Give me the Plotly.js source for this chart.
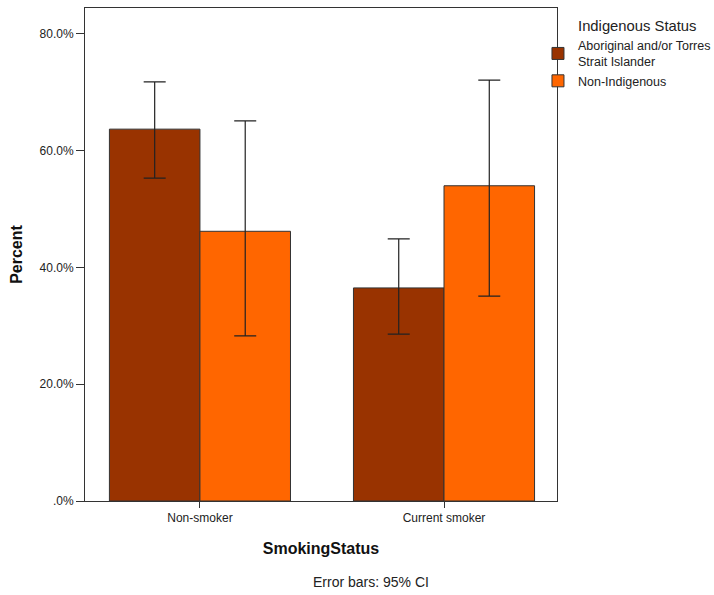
<!DOCTYPE html>
<html>
<head>
<meta charset="utf-8">
<script src="https://cdn.plot.ly/plotly-3.0.1.min.js"></script>
<style>html,body{margin:0;padding:0;background:#fff;}#chart{width:714px;height:595px;}</style>
</head>
<body>
<div id="chart"></div>
<script>
var categories = ["Non-smoker", "Current smoker"];
var seriesNames = ["Aboriginal and/or Torres<br>Strait Islander", "Non-Indigenous"];
var aboriginal = [63.7, 36.5];
var aboriginalLow = [55.3, 28.6];
var aboriginalHigh = [71.8, 44.9];
var nonIndigenous = [46.2, 54.0];
var nonIndigenousLow = [28.3, 35.1];
var nonIndigenousHigh = [65.1, 72.1];
var yTickVals = [0, 20, 40, 60, 80];
var yTickText = [".0%", "20.0%", "40.0%", "60.0%", "80.0%"];

function diff(a, b) { return a.map(function (v, i) { return v - b[i]; }); }

var fontFam = "Liberation Sans, Arial, sans-serif";

var traces = [
  {
    type: "bar", x: categories, y: aboriginal, name: seriesNames[0],
    marker: {color: "#993300", line: {color: "#333333", width: 1}},
    error_y: {type: "data", symmetric: false, array: diff(aboriginalHigh, aboriginal),
      arrayminus: diff(aboriginal, aboriginalLow), color: "#222222", thickness: 1.2, width: 11}
  },
  {
    type: "bar", x: categories, y: nonIndigenous, name: seriesNames[1],
    marker: {color: "#FF6600", line: {color: "#333333", width: 1}},
    error_y: {type: "data", symmetric: false, array: diff(nonIndigenousHigh, nonIndigenous),
      arrayminus: diff(nonIndigenous, nonIndigenousLow), color: "#222222", thickness: 1.2, width: 11}
  }
];

var layout = {
  width: 714, height: 595,
  margin: {l: 85, r: 157, t: 8, b: 94, autoexpand: false},
  paper_bgcolor: "#ffffff", plot_bgcolor: "#ffffff",
  font: {family: fontFam, size: 12, color: "#222222"},
  barmode: "group", bargap: 0.258, bargroupgap: 0,
  showlegend: true,
  legend: {
    x: 0.9597, y: 0.993, xanchor: "left", yanchor: "top",
    bgcolor: "rgba(0,0,0,0)",
    itemwidth: 30, tracegroupgap: 0,
    font: {family: fontFam, size: 12.5, color: "#222222"},
    title: {text: "&nbsp;&nbsp;&nbsp;&nbsp;&nbsp;Indigenous Status", side: "top center", font: {family: fontFam, size: 14.8, color: "#222222"}}
  },
  xaxis: {
    type: "category", range: [-0.471, 1.463],
    showline: true, linecolor: "#333333", linewidth: 1, mirror: true,
    ticks: "outside", ticklen: 6, tickcolor: "#333333",
    showgrid: false, zeroline: false,
    tickfont: {family: fontFam, size: 12, color: "#222222"},
    title: {text: "<b>SmokingStatus</b>", font: {family: fontFam, size: 16, color: "#111111"}, standoff: 18}
  },
  yaxis: {
    range: [0, 84.45],
    tickvals: yTickVals, ticktext: yTickText,
    showline: true, linecolor: "#333333", linewidth: 1, mirror: true,
    ticks: "outside", ticklen: 8, tickcolor: "#333333",
    showgrid: false, zeroline: false,
    tickfont: {family: fontFam, size: 12, color: "#222222"},
    title: {text: "<b>Percent</b>", font: {family: fontFam, size: 16, color: "#111111"}, standoff: 12}
  },
  annotations: [
    {text: "Error bars: 95% CI", xref: "paper", yref: "paper", x: 0.605, y: 0,
     yshift: -81, xanchor: "center", yanchor: "middle", showarrow: false,
     font: {family: fontFam, size: 14, color: "#222222"}}
  ]
};

Plotly.newPlot("chart", traces, layout, {displayModeBar: false, staticPlot: true});
</script>
</body>
</html>
